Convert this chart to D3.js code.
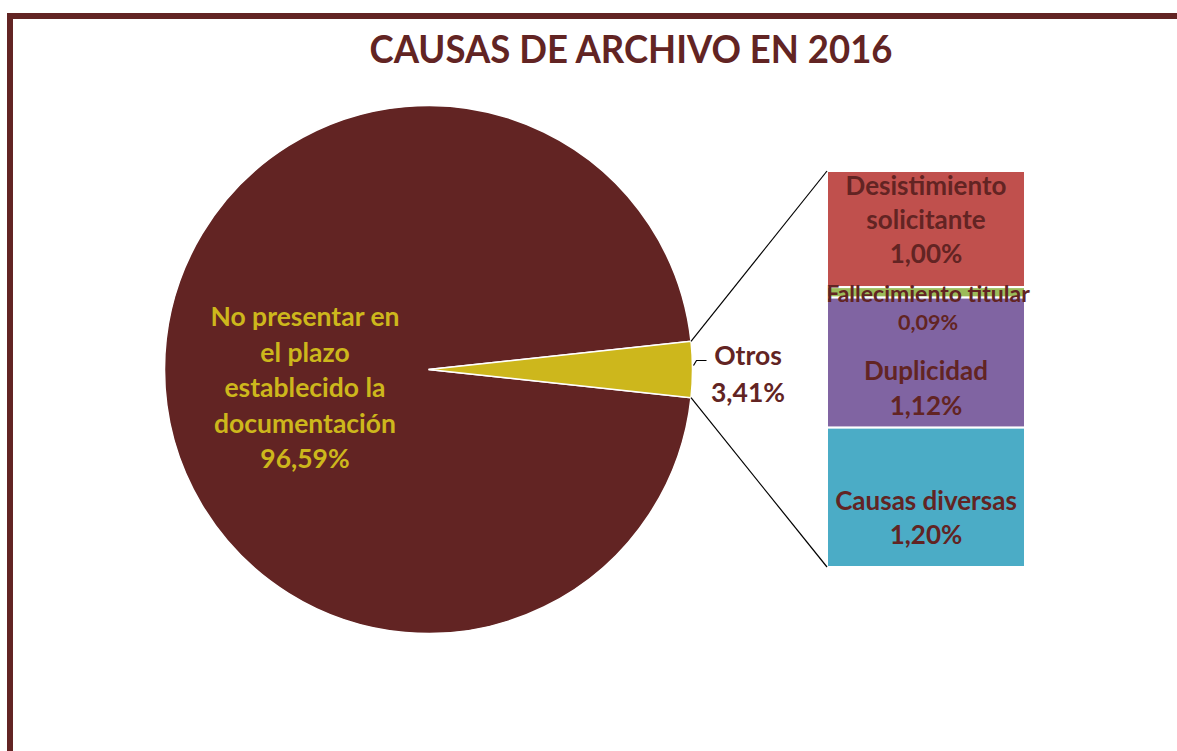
<!DOCTYPE html>
<html lang="es">
<head>
<meta charset="UTF-8">
<title>Causas de archivo en 2016</title>
<script src="https://d3js.org/d3.v7.min.js"></script>
<style>
    body { margin: 0; background: #fff; font-family: Lato, "Open Sans", sans-serif; }
    svg { display: block; }
    .lbl { font-weight: bold; text-anchor: middle; dominant-baseline: central; }
</style>
</head>
<body>
<div id="grafico"></div>
<script>
// datos principales (pastel)
const categorias = ["No presentar en el plazo establecido la documentación", "Otros"];
const valores = [96.59, 3.41];
const etiquetasPie = [
    ["No presentar en", "el plazo", "establecido la", "documentación", "96,59%"],
    ["Otros", "3,41%"]
];

// desglose de "Otros" (barra)
const subCategorias = ["Desistimiento solicitante", "Fallecimiento titular", "Duplicidad", "Causas diversas"];
const subValores = [1.00, 0.09, 1.12, 1.20];
const subEtiquetas = [
    ["Desistimiento", "solicitante", "1,00%"],
    ["Fallecimiento titular", "0,09%"],
    ["Duplicidad", "1,12%"],
    ["Causas diversas", "1,20%"]
];

const titulo = "CAUSAS DE ARCHIVO EN 2016";

const W = 1177, H = 751;
const rojo = "#622423";
const coloresPie = [rojo, "#CDB71C"];
const coloresBar = ["#C0504D", "#9BBB59", "#8064A2", "#4BACC6"];

const svg = d3.select("#grafico").append("svg")
    .attr("width", W)
    .attr("height", H);

// marco
svg.append("rect")
    .attr("x", 10).attr("y", 16)
    .attr("width", W + 20).attr("height", H + 20)
    .attr("fill", "none")
    .attr("stroke", rojo)
    .attr("stroke-width", 6);

svg.append("text")
    .attr("x", 631).attr("y", 48)
    .attr("class", "lbl")
    .attr("fill", rojo)
    .style("font-size", "39px")
    .attr("textLength", 523)
    .attr("lengthAdjust", "spacingAndGlyphs")
    .text(titulo);

// pastel
const cx = 428.5, cy = 369.5, r = 264;
const anguloOtros = 2 * Math.PI * valores[1] / d3.sum(valores);
const inicio = Math.PI / 2 + anguloOtros / 2;

const pie = d3.pie().sort(null)
    .startAngle(inicio)
    .endAngle(inicio + 2 * Math.PI);
const arcos = pie(valores);
const arc = d3.arc().innerRadius(0).outerRadius(r);

const gPie = svg.append("g").attr("transform", `translate(${cx},${cy})`);
gPie.selectAll("path")
    .data(arcos)
    .enter().append("path")
    .attr("d", arc)
    .attr("fill", (d, i) => coloresPie[i])
    .attr("stroke", "#fff")
    .attr("stroke-width", 1.5);

// etiqueta del sector principal
const lineH = 35.5;
etiquetasPie[0].forEach((t, i) => {
    svg.append("text")
        .attr("class", "lbl")
        .attr("x", 305)
        .attr("y", 316 + i * lineH)
        .attr("fill", "#CDB71C")
        .style("font-size", "26.5px")
        .text(t);
});

// etiqueta Otros + guía
const otros = arcos[1];
const medio = (otros.startAngle + otros.endAngle) / 2;
const px = a => cx + r * Math.sin(a), py = a => cy - r * Math.cos(a);
svg.append("path")
    .attr("d", `M${px(medio) + 1},${py(medio) - 4} L${px(medio) + 4},${py(medio) - 9} L${px(medio) + 14},${py(medio) - 9}`)
    .attr("fill", "none")
    .attr("stroke", "#000")
    .attr("stroke-width", 1.2);
etiquetasPie[1].forEach((t, i) => {
    svg.append("text")
        .attr("class", "lbl")
        .attr("x", 748)
        .attr("y", 355 + i * 37)
        .attr("fill", rojo)
        .style("font-size", "26.5px")
        .text(t);
});

// barra apilada
const bx = 827, bw = 198;
const y = d3.scaleLinear()
    .domain([0, d3.sum(subValores)])
    .range([171, 567]);
let acum = 0;
const pilas = subValores.map(v => { const d = { y0: acum, y1: acum + v }; acum += v; return d; });

svg.selectAll("rect.bar")
    .data(pilas)
    .enter().append("rect")
    .attr("class", "bar")
    .attr("x", bx)
    .attr("y", d => y(d.y0))
    .attr("width", bw)
    .attr("height", d => y(d.y1) - y(d.y0))
    .attr("fill", (d, i) => coloresBar[i])
    .attr("stroke", "#fff")
    .attr("stroke-width", 2);

// líneas de conexión
svg.append("line")
    .attr("x1", px(otros.startAngle)).attr("y1", py(otros.startAngle))
    .attr("x2", bx).attr("y2", y(0))
    .attr("stroke", "#000").attr("stroke-width", 1.2);
svg.append("line")
    .attr("x1", px(otros.endAngle)).attr("y1", py(otros.endAngle))
    .attr("x2", bx).attr("y2", y(d3.sum(subValores)))
    .attr("stroke", "#000").attr("stroke-width", 1.2);

// etiquetas de la barra
const posEtiq = [[185, 34], [293, 29], [370, 35], [500, 34]];
const tamEtiq = [[26, 26, 26], [23, 21.5], [26, 26], [26, 26]];
subEtiquetas.forEach((lineas, k) => {
    lineas.forEach((t, i) => {
        svg.append("text")
            .attr("class", "lbl")
            .attr("x", bx + bw / 2 + (k === 1 ? 2 : 0))
            .attr("y", posEtiq[k][0] + i * posEtiq[k][1])
            .attr("fill", rojo)
            .style("font-size", tamEtiq[k][i] + "px")
            .text(t);
    });
});
</script>
</body>
</html>
